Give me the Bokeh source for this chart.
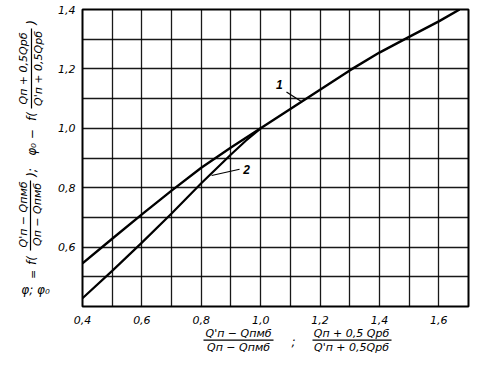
import math
from bokeh.plotting import figure
from bokeh.layouts import row, column
from bokeh.models import FixedTicker, Label, BoxAnnotation, Range1d
from bokeh.embed import file_html
from bokeh.resources import INLINE

# ---- data ----
x_curve1 = [0.4, 0.5, 0.6, 0.7, 0.8, 0.9, 1.0, 1.1, 1.2, 1.3, 1.4, 1.5, 1.6, 1.67]
y_curve1 = [0.545, 0.628, 0.71, 0.79, 0.867, 0.935, 1.0, 1.065, 1.13, 1.195, 1.255, 1.308, 1.36, 1.4]
x_curve2 = [0.4, 0.5, 0.6, 0.7, 0.8, 0.9, 0.95, 1.0]
y_curve2 = [0.428, 0.52, 0.615, 0.713, 0.815, 0.912, 0.958, 1.0]

x_ticks = [0.4, 0.6, 0.8, 1.0, 1.2, 1.4, 1.6]
x_tick_labels = ["0,4", "0,6", "0,8", "1,0", "1,2", "1,4", "1,6"]
y_ticks = [0.6, 0.8, 1.0, 1.2, 1.4]
y_tick_labels = ["0,6", "0,8", "1,0", "1,2", "1,4"]
x_grid = [0.4, 0.5, 0.6, 0.7, 0.8, 0.9, 1.0, 1.1, 1.2, 1.3, 1.4, 1.5, 1.6, 1.7]
y_grid = [0.4, 0.5, 0.6, 0.7, 0.8, 0.9, 1.0, 1.1, 1.2, 1.3, 1.4]

curve_names = ["1", "2"]
name_x = [1.063, 0.953]
name_y = [1.148, 0.862]
leader_x0 = [1.087, 0.835]
leader_y0 = [1.122, 0.841]
leader_x1 = [1.137, 0.929]
leader_y1 = [1.09, 0.862]

FONT = "DejaVu Sans"
LEFT_W = 55      # width of the y-label strip
MAIN_H = 326     # height of the main figure
TOTAL_W = 478
TOTAL_H = 378

# ---- main chart: frame occupies page x 80..468, y 9..308 ----
p = figure(width=TOTAL_W - LEFT_W, height=MAIN_H, output_backend="svg", toolbar_location=None,
           x_range=Range1d(0.4, 1.7), y_range=Range1d(0.4, 1.4),
           min_border_left=80 - LEFT_W, min_border_right=10, min_border_top=9,
           min_border_bottom=MAIN_H - 308)
p.background_fill_color = "white"
p.border_fill_color = "white"
p.outline_line_color = "black"
p.outline_line_width = 2

p.xaxis.ticker = FixedTicker(ticks=x_ticks)
p.yaxis.ticker = FixedTicker(ticks=y_ticks)
p.xaxis.major_label_overrides = dict(zip(x_ticks, x_tick_labels))
p.yaxis.major_label_overrides = dict(zip(y_ticks, y_tick_labels))
for ax in (p.xaxis, p.yaxis):
    ax.axis_line_color = None
    ax.major_tick_line_color = None
    ax.minor_tick_line_color = None
    ax.major_label_text_font = FONT
    ax.major_label_text_font_style = "italic"
    ax.major_label_text_font_size = "11px"
    ax.major_label_text_color = "black"
p.xaxis.major_label_standoff = 3
p.yaxis.major_label_standoff = 1

p.xgrid.ticker = FixedTicker(ticks=x_grid)
p.ygrid.ticker = FixedTicker(ticks=y_grid)
for g in (p.xgrid, p.ygrid):
    g.grid_line_color = "black"
    g.grid_line_width = 1.3
    g.grid_line_alpha = 0.9

p.line(x_curve1, y_curve1, line_color="black", line_width=2.4)
p.line(x_curve2, y_curve2, line_color="black", line_width=2.2)
p.segment(leader_x0, leader_y0, leader_x1, leader_y1, line_color="black", line_width=1.2)
p.text(name_x, name_y, text=curve_names, text_font_size="12px", text_font_style="bold italic",
       text_align="center", text_baseline="middle")


def strip(w, h):
    f = figure(width=w, height=h, output_backend="svg", toolbar_location=None,
               x_range=Range1d(0, 1), y_range=Range1d(0, 1),
               x_axis_location=None, y_axis_location=None,
               min_border_left=0, min_border_right=0, min_border_top=0, min_border_bottom=0)
    f.outline_line_color = None
    f.xgrid.visible = False
    f.ygrid.visible = False
    f.background_fill_color = "white"
    f.border_fill_color = "white"
    return f


def lab(f, left, bottom, px, py, text, angle=0.0, size="11px", style="italic"):
    # px, py are page pixels; (left, bottom) is the strip frame's bottom-left corner on the page
    f.add_layout(Label(x=px - left, y=bottom - py, x_units="screen", y_units="screen",
                       text=text, angle=angle, text_align="center", text_baseline="middle",
                       text_font=FONT, text_font_size=size, text_font_style=style,
                       text_color="black"))


def box(f, left, bottom, x0, x1, y0, y1):
    f.add_layout(BoxAnnotation(left=x0 - left, right=x1 - left, bottom=bottom - y1, top=bottom - y0,
                               left_units="screen", right_units="screen",
                               top_units="screen", bottom_units="screen",
                               fill_color="black", fill_alpha=1, line_color=None, line_alpha=0))


# ---- y-label strip (rotated text); its frame is aligned with the chart frame (bottom at page 308) ----
yl = strip(LEFT_W, MAIN_H)
R = math.pi / 2
YB = 308
lab(yl, 0, YB, 35, 291, "φ; φ₀", size="12px")
lab(yl, 0, YB, 33, 276, "=", angle=R)
lab(yl, 0, YB, 31, 262, "f(", angle=R, size="12px")
lab(yl, 0, YB, 23, 216, "Q'п − Qпмб", angle=R)
box(yl, 0, YB, 29.4, 30.6, 182, 252)
lab(yl, 0, YB, 37, 216, "Qп − Qпмб", angle=R)
lab(yl, 0, YB, 31, 174, ");", angle=R, size="12px")
lab(yl, 0, YB, 31, 144, "φ₀ −", angle=R, size="12px")
lab(yl, 0, YB, 31, 118, "f(", angle=R, size="12px")
lab(yl, 0, YB, 23, 70, "Qп + 0,5Qрб", angle=R)
box(yl, 0, YB, 30.4, 31.6, 30, 110)
lab(yl, 0, YB, 38, 70, "Q'п + 0,5Qрб", angle=R)
lab(yl, 0, YB, 31, 24, ")", angle=R, size="12px")

# ---- x-label strip (page y 326..378) ----
XH = TOTAL_H - MAIN_H
xl = strip(TOTAL_W, XH)
XB = TOTAL_H
lab(xl, 0, XB, 238, 333, "Q'п − Qпмб")
box(xl, 0, XB, 203, 273, 339, 340.2)
lab(xl, 0, XB, 238, 347, "Qп − Qпмб")
lab(xl, 0, XB, 293, 341, ";", size="12px")
lab(xl, 0, XB, 351, 333, "Qп + 0,5 Qрб")
box(xl, 0, XB, 312, 391, 339, 340.2)
lab(xl, 0, XB, 351, 347, "Q'п + 0,5Qрб")

layout = column(row(yl, p, spacing=0), xl, spacing=0)
open("out.html", "w").write(file_html(layout, INLINE))
